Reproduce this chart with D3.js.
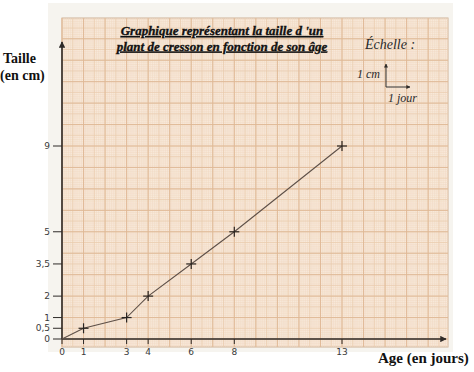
<!DOCTYPE html>
<meta charset="utf-8">
<html>
<head>
  <title>Taille du cresson</title>
  <script src="https://d3js.org/d3.v7.min.js"></script>
  <style>
    body { margin: 0; background: #fff; }
    svg { display: block; }
  </style>
</head>
<body>
<div id="my_dataviz"></div>
<script>
  // data
  var ages = [0, 1, 3, 4, 6, 8, 13];
  var tailles = [0, 0.5, 1, 2, 3.5, 5, 9];
  var xTicks = [0, 1, 3, 4, 6, 8, 13];
  var yTicks = [0, 0.5, 1, 2, 3.5, 5, 9];
  var yTickLabels = ["0", "0,5", "1", "2", "3,5", "5", "9"];
  var titleLines = ["Graphique représentant la taille d 'un", "plant de cresson en fonction de son âge"];

  var width = 474, height = 372;
  var paper = {left: 62, right: 448, top: 18, bottom: 347};

  var svg = d3.select("#my_dataviz")
    .append("svg")
      .attr("width", width)
      .attr("height", height);

  // scales: 1 cm = 1 jour
  var x = d3.scaleLinear().domain([0, 13]).range([62, 342]);
  var y = d3.scaleLinear().domain([0, 9]).range([339, 146]);

  // page + graph paper
  svg.append("rect")
    .attr("x", 48).attr("y", 3)
    .attr("width", 405).attr("height", 349)
    .style("fill", "#f6f4ef");

  svg.append("rect")
    .attr("x", paper.left).attr("y", paper.top)
    .attr("width", paper.right - paper.left)
    .attr("height", paper.bottom - paper.top)
    .style("fill", "#f8e9da")
    .style("stroke", "#cdb197")
    .style("stroke-width", 1);

  var grid = svg.append("g");
  var xMax = x.invert(paper.right), yMin = y.invert(paper.bottom), yMax = y.invert(paper.top);

  // three levels: mm, 5 mm, cm
  var levels = [
    {step: 0.1, color: "#f1d9c2", w: 0.5},
    {step: 0.5, color: "#eacbad", w: 0.7},
    {step: 1, color: "#dfb895", w: 0.9}
  ];
  levels.forEach(function(lv) {
    var vx = d3.range(0, xMax, lv.step);
    var vy = d3.range(Math.ceil(yMin / lv.step) * lv.step, yMax, lv.step);
    grid.selectAll(null)
      .data(vx).enter().append("line")
        .attr("x1", function(d) { return x(d); })
        .attr("x2", function(d) { return x(d); })
        .attr("y1", paper.top).attr("y2", paper.bottom)
        .style("stroke", lv.color).style("stroke-width", lv.w);
    grid.selectAll(null)
      .data(vy).enter().append("line")
        .attr("y1", function(d) { return y(d); })
        .attr("y2", function(d) { return y(d); })
        .attr("x1", paper.left).attr("x2", paper.right)
        .style("stroke", lv.color).style("stroke-width", lv.w);
  });

  // axes
  var axisColor = "#2e2a28";
  svg.append("defs").append("marker")
    .attr("id", "arrow")
    .attr("viewBox", "0 0 10 10")
    .attr("refX", 9).attr("refY", 5)
    .attr("markerWidth", 4).attr("markerHeight", 4)
    .attr("orient", "auto")
    .append("path")
      .attr("d", "M0,0L10,5L0,10z")
      .style("fill", axisColor);

  svg.append("line")
    .attr("x1", x(0)).attr("x2", 446)
    .attr("y1", y(0)).attr("y2", y(0))
    .style("stroke", axisColor).style("stroke-width", 1.6)
    .attr("marker-end", "url(#arrow)");

  svg.append("line")
    .attr("x1", x(0)).attr("x2", x(0))
    .attr("y1", y(0)).attr("y2", 42)
    .style("stroke", axisColor).style("stroke-width", 1.6)
    .attr("marker-end", "url(#arrow)");

  // x ticks
  svg.selectAll(".xtick")
    .data(xTicks).enter().append("line")
      .attr("class", "xtick")
      .attr("x1", function(d) { return x(d); })
      .attr("x2", function(d) { return x(d); })
      .attr("y1", y(0)).attr("y2", y(0) + 5)
      .style("stroke", axisColor).style("stroke-width", 1);

  svg.selectAll(".xlab")
    .data(xTicks).enter().append("text")
      .attr("class", "xlab")
      .attr("x", function(d) { return x(d); })
      .attr("y", 355)
      .attr("text-anchor", "middle")
      .style("font-family", "DejaVu Sans, Verdana, sans-serif")
      .style("font-size", "9px")
      .style("fill", "#3a3a3a")
      .text(function(d) { return d; });

  // y ticks
  svg.selectAll(".ytick")
    .data(yTicks).enter().append("line")
      .attr("class", "ytick")
      .attr("y1", function(d) { return y(d); })
      .attr("y2", function(d) { return y(d); })
      .attr("x1", x(0) - 9).attr("x2", x(0))
      .style("stroke", axisColor).style("stroke-width", 1);

  svg.selectAll(".ylab")
    .data(yTicks).enter().append("text")
      .attr("class", "ylab")
      .attr("x", 50)
      .attr("y", function(d) { return y(d); })
      .attr("dy", "0.35em")
      .attr("text-anchor", "end")
      .style("font-family", "DejaVu Sans, Verdana, sans-serif")
      .style("font-size", "9px")
      .style("fill", "#3a3a3a")
      .text(function(d, i) { return yTickLabels[i]; });

  // the curve
  var points = ages.map(function(a, i) { return [a, tailles[i]]; });
  svg.append("path")
    .datum(points)
    .attr("d", d3.line()
      .x(function(d) { return x(d[0]); })
      .y(function(d) { return y(d[1]); }))
    .style("fill", "none")
    .style("stroke", "#5e5048")
    .style("stroke-width", 1.1);

  // crosses
  var cross = svg.selectAll(".cross")
    .data(points.filter(function(d) { return d[0] > 0; }))
    .enter().append("g")
      .attr("class", "cross")
      .attr("transform", function(d) { return "translate(" + x(d[0]) + "," + y(d[1]) + ")"; });
  cross.append("line").attr("x1", -5).attr("x2", 5).attr("y1", 0).attr("y2", 0);
  cross.append("line").attr("x1", 0).attr("x2", 0).attr("y1", -5).attr("y2", 5);
  cross.selectAll("line").style("stroke", "#2a2522").style("stroke-width", 1.2);

  // title
  titleLines.forEach(function(t, i) {
    svg.append("text")
      .attr("x", 222)
      .attr("y", 35 + i * 15.5)
      .attr("text-anchor", "middle")
      .style("font-family", "Liberation Serif, Times New Roman, serif")
      .style("font-weight", "bold")
      .style("font-style", "italic")
      .style("font-size", "13px")
      .style("text-decoration", "underline")
      .style("fill", "#111")
      .style("stroke", "#111")
      .style("stroke-width", 0.35)
      .text(t);
  });

  // echelle
  var serif = "Liberation Serif, Times New Roman, serif";
  svg.append("text")
    .attr("x", 365).attr("y", 49)
    .style("font-family", serif).style("font-style", "italic")
    .style("font-size", "14px").style("fill", "#2a2a2a")
    .text("Échelle :");
  svg.append("line")
    .attr("x1", 386).attr("x2", 386).attr("y1", 87).attr("y2", 64)
    .style("stroke", "#333").style("stroke-width", 1)
    .attr("marker-end", "url(#arrow)");
  svg.append("line")
    .attr("x1", 386).attr("x2", 410).attr("y1", 87).attr("y2", 87)
    .style("stroke", "#333").style("stroke-width", 1)
    .attr("marker-end", "url(#arrow)");
  svg.append("text")
    .attr("x", 357).attr("y", 78)
    .style("font-family", serif).style("font-style", "italic")
    .style("font-size", "12px").style("fill", "#2a2a2a")
    .text("1 cm");
  svg.append("text")
    .attr("x", 388).attr("y", 102)
    .style("font-family", serif).style("font-style", "italic")
    .style("font-size", "12px").style("fill", "#2a2a2a")
    .text("1 jour");

  // axis titles
  svg.append("text")
    .attr("x", 3).attr("y", 63)
    .style("font-family", serif).style("font-weight", "bold")
    .style("font-size", "14px").style("fill", "#111")
    .text("Taille");
  svg.append("text")
    .attr("x", 0).attr("y", 80)
    .style("font-family", serif).style("font-weight", "bold")
    .style("font-size", "14px").style("fill", "#111")
    .text("(en cm)");
  svg.append("text")
    .attr("x", 378).attr("y", 363)
    .style("font-family", serif).style("font-weight", "bold")
    .style("font-size", "15px").style("fill", "#111")
    .text("Age (en jours)");
</script>
</body>
</html>
